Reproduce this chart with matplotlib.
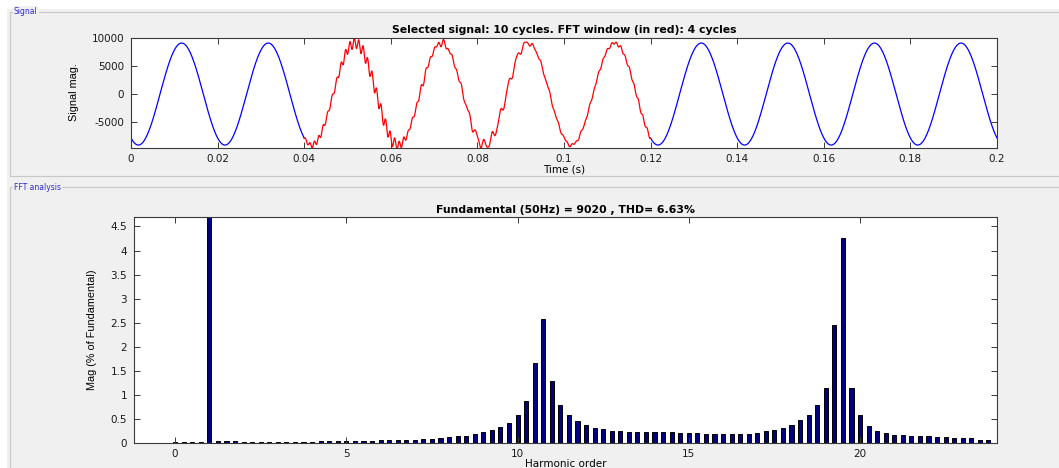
import numpy as np
import matplotlib
matplotlib.use("Agg")
import matplotlib.pyplot as plt
from matplotlib.patches import Rectangle

# ---------------- data ----------------
fundamental_hz = 50
fundamental_mag = 9020          # from title
thd_percent = 6.63
n_cycles = 10
fft_cycles = 4
fft_start = 0.04                # start of FFT window (s)
peak_time = 0.0117              # time of first positive peak of the signal (s)

# harmonic orders (0 .. 23.75 step 0.25) and magnitudes (% of fundamental)
harmonic_order = [i * 0.25 for i in range(96)]
harmonic_mag = [
    0.02, 0.02, 0.02, 0.02,            # 0 .. 0.75
    100.0, 0.04, 0.04, 0.04,           # 1 .. 1.75
    0.035, 0.03, 0.03, 0.025,          # 2 .. 2.75
    0.02, 0.02, 0.02, 0.02,            # 3 .. 3.75
    0.028, 0.038, 0.04, 0.048,         # 4 .. 4.75
    0.055, 0.058, 0.058, 0.058,        # 5 .. 5.75
    0.06, 0.062, 0.07, 0.07,           # 6 .. 6.75
    0.075, 0.084, 0.095, 0.105,        # 7 .. 7.75
    0.122, 0.145, 0.16, 0.195,         # 8 .. 8.75
    0.23, 0.275, 0.335, 0.415,         # 9 .. 9.75
    0.58, 0.885, 1.675, 2.57,          # 10 .. 10.75
    1.295, 0.795, 0.58, 0.455,         # 11 .. 11.75
    0.38, 0.325, 0.29, 0.265,          # 12 .. 12.75
    0.25, 0.24, 0.225, 0.225,          # 13 .. 13.75
    0.225, 0.225, 0.225, 0.222,        # 14 .. 14.75
    0.217, 0.21, 0.2, 0.2,             # 15 .. 15.75
    0.196, 0.196, 0.196, 0.2,          # 16 .. 16.75
    0.217, 0.245, 0.28, 0.325,         # 17 .. 17.75
    0.385, 0.475, 0.59, 0.785,         # 18 .. 18.75
    1.15, 2.45, 4.27, 1.15,            # 19 .. 19.75
    0.59, 0.365, 0.26, 0.215,          # 20 .. 20.75
    0.175, 0.168, 0.16, 0.155,         # 21 .. 21.75
    0.15, 0.14, 0.126, 0.12,           # 22 .. 22.75
    0.105, 0.1, 0.077, 0.063,          # 23 .. 23.75
]

time_ticks = [0, 0.02, 0.04, 0.06, 0.08, 0.1, 0.12, 0.14, 0.16, 0.18, 0.2]
sig_ticks = [-5000, 0, 5000, 10000]
harm_xticks = [0, 5, 10, 15, 20]
harm_yticks = [0, 0.5, 1, 1.5, 2, 2.5, 3, 3.5, 4, 4.5]

title_top = "Selected signal: 10 cycles. FFT window (in red): 4 cycles"
title_bot = f"Fundamental (50Hz) = {fundamental_mag} , THD= {thd_percent}%"

# ---------------- signal reconstructed from fundamental + spectrum ----------------
T = 1.0 / fundamental_hz
t = np.linspace(0, n_cycles * T, 4001)
sig = fundamental_mag * np.cos(2 * np.pi * fundamental_hz * (t - peak_time))
win = (t >= fft_start) & (t <= fft_start + fft_cycles * T)
red = sig.copy()
orders = np.array(harmonic_order)
mags = np.array(harmonic_mag)
N = len(orders)
for k, (h, m) in enumerate(zip(orders, mags)):
    if h == 1.0:
        continue
    phase = np.pi * k * k / N   # deterministic spread of phases
    red += m / 100 * fundamental_mag * np.cos(
        2 * np.pi * fundamental_hz * h * (t - fft_start) + phase)

# ---------------- figure ----------------
W, H = 1059, 468
fig = plt.figure(figsize=(W / 100, H / 100), dpi=100, facecolor="white")


def fx(x):
    return x / W


def fy(y):
    return 1 - y / H


def add_rect(x0, y0, x1, y1, **kw):
    fig.add_artist(Rectangle((fx(x0), fy(y1)), fx(x1) - fx(x0), fy(y0) - fy(y1),
                             transform=fig.transFigure, zorder=-10, **kw))


panel_bg = "#f0f0f0"
add_rect(7, 9, W + 2, H + 2, facecolor=panel_bg, edgecolor="none")
# group boxes
add_rect(10, 12, W + 5, 176, facecolor="none", edgecolor="#c8c8c8", lw=0.8)
add_rect(10, 187, W + 5, H + 5, facecolor="none", edgecolor="#c8c8c8", lw=0.8)
lbl_box = dict(facecolor=panel_bg, edgecolor="none", pad=1.0)
fig.text(fx(14), fy(12), "Signal", color="#2a2ad0", fontsize=5.5,
         va="center", ha="left", bbox=lbl_box, zorder=-5)
fig.text(fx(14), fy(187), "FFT analysis", color="#2a2ad0", fontsize=5.5,
         va="center", ha="left", bbox=lbl_box, zorder=-5)

spine_col = "#3a3a3a"
lab_col = "#1a1a1a"
ylab_font = ["Liberation Sans", "DejaVu Sans"]


def style(ax):
    for s in ax.spines.values():
        s.set_color(spine_col)
        s.set_linewidth(0.8)
    ax.tick_params(direction="in", length=4, width=0.7, color=spine_col,
                   top=True, right=True, labelsize=7.5, labelcolor=lab_col, pad=5)


# top axes
ax1 = fig.add_axes([fx(131), fy(147.5), fx(997) - fx(131), fy(37.5) - fy(147.5)])
ax1.plot(t[t <= fft_start], sig[t <= fft_start], color="#0000ff", lw=0.9)
ax1.plot(t[t >= fft_start + fft_cycles * T], sig[t >= fft_start + fft_cycles * T],
         color="#0000ff", lw=0.9)
ax1.plot(t[win], red[win], color="#ff0000", lw=0.9)
ax1.set_xlim(0, n_cycles * T)
ax1.set_ylim(-9450, 10000)
ax1.set_xticks(time_ticks)
ax1.set_xticklabels([f"{v:g}" for v in time_ticks])
ax1.set_yticks(sig_ticks)
ax1.set_yticklabels([f"{v:g}" for v in sig_ticks])
style(ax1)
ax1.set_title(title_top, fontsize=7.8, fontweight="bold", pad=3)
ax1.set_xlabel("Time (s)", fontsize=7.5, labelpad=0)
ax1.set_ylabel("Signal mag.", fontsize=7.8, family=ylab_font, labelpad=9)

# bottom axes
ax2 = fig.add_axes([fx(134), fy(443.3), fx(997) - fx(134), fy(217) - fy(443.3)])
ax2.bar(orders, mags, width=0.12, color="#000080", edgecolor="#000000", lw=0.7)
others = [m for h, m in zip(orders, mags) if h != 1.0]
ax2.set_xlim(-1.2, 24.0)
ax2.set_ylim(0, 1.1 * max(others))
ax2.set_xticks(harm_xticks)
ax2.set_xticklabels([f"{v:g}" for v in harm_xticks])
ax2.set_yticks(harm_yticks)
ax2.set_yticklabels([f"{v:g}" for v in harm_yticks])
style(ax2)
ax2.tick_params(axis="x", pad=4)
ax2.set_title(title_bot, fontsize=7.8, fontweight="bold", pad=3)
ax2.set_xlabel("Harmonic order", fontsize=7.5, labelpad=0)
ax2.set_ylabel("Mag (% of Fundamental)", fontsize=7.8, family=ylab_font,
               labelpad=10)

fig.savefig("out.png", dpi=100, facecolor=fig.get_facecolor())
